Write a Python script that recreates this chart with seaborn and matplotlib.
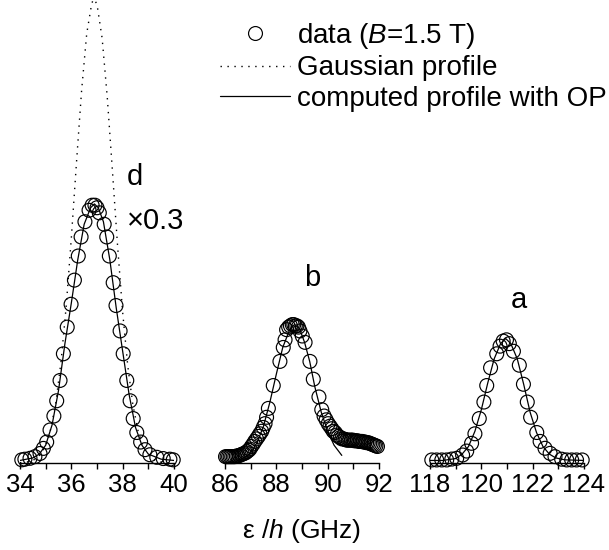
import matplotlib
matplotlib.use("Agg")
import matplotlib.pyplot as plt
from matplotlib.ticker import MultipleLocator
from matplotlib.lines import Line2D
import seaborn as sns

# ---------------- transition d (shown x0.3) ----------------
d_freq = [34.07, 34.19, 34.39, 34.58, 34.78, 34.91, 35.04, 35.17, 35.32, 35.43,
          35.56, 35.69, 35.84, 35.99, 36.12, 36.27, 36.38, 36.53, 36.69, 36.81,
          36.92, 37.00, 37.09, 37.28, 37.38, 37.48, 37.63, 37.74, 37.90, 38.02,
          38.16, 38.29, 38.41, 38.55, 38.70, 38.87, 39.06, 39.33, 39.58, 39.84, 39.97]
d_data = [0.025, 0.03, 0.037, 0.05, 0.075, 0.115, 0.165, 0.26, 0.37, 0.49,
          0.65, 0.86, 1.07, 1.25, 1.44, 1.63, 1.78, 1.90, 1.99, 2.03,
          2.03, 2.01, 1.97, 1.88, 1.78, 1.63, 1.42, 1.24, 1.04, 0.86,
          0.65, 0.49, 0.35, 0.24, 0.165, 0.105, 0.065, 0.045, 0.035, 0.03, 0.025]

d_fit_freq = [34.0, 34.5, 34.75, 35.0, 35.25, 35.5, 35.75, 36.0, 36.25, 36.5, 36.75,
              36.9, 37.05, 37.25, 37.5, 37.75, 38.0, 38.25, 38.5, 38.75, 39.0, 39.5, 40.0]
d_fit = [0.02, 0.04, 0.07, 0.14, 0.30, 0.57, 0.94, 1.26, 1.60, 1.88, 2.01,
         2.04, 2.01, 1.90, 1.60, 1.22, 0.88, 0.54, 0.28, 0.14, 0.07, 0.03, 0.02]

d_gauss_freq = [34.0, 34.2, 34.4, 34.6, 34.8, 35.0, 35.2, 35.4, 35.6, 35.8, 36.0,
                36.2, 36.4, 36.6, 36.8, 36.89, 37.0, 37.2, 37.4, 37.6, 37.8, 38.0,
                38.2, 38.4, 38.6, 38.8, 39.0, 39.2, 39.4, 39.6, 39.8, 40.0]
d_gauss = [0.002, 0.005, 0.013, 0.031, 0.068, 0.140, 0.269, 0.481, 0.800, 1.234, 1.772,
           2.364, 2.933, 3.382, 3.625, 3.652, 3.612, 3.345, 2.880, 2.304, 1.714, 1.186,
           0.762, 0.456, 0.253, 0.130, 0.063, 0.028, 0.012, 0.0045, 0.0016, 0.0006]

# ---------------- transition b ----------------
b_freq = [86.02, 86.08, 86.14, 86.20, 86.26, 86.32, 86.38, 86.44, 86.50, 86.56,
          86.62, 86.68, 86.74, 86.80, 86.86, 86.92, 86.97, 87.03, 87.10, 87.16,
          87.23, 87.30, 87.36, 87.43, 87.49, 87.56, 87.62, 87.69, 87.88, 88.14,
          88.27, 88.34, 88.40, 88.48, 88.55, 88.62, 88.68, 88.74, 88.80, 88.86,
          88.92, 89.01, 89.12, 89.31, 89.44, 89.66, 89.77, 89.86, 89.94, 90.02,
          90.09, 90.16, 90.22, 90.29, 90.36, 90.42, 90.49, 90.55, 90.62, 90.68,
          90.74, 90.80, 90.86, 90.92, 90.98, 91.04, 91.10, 91.16, 91.22, 91.28,
          91.34, 91.40, 91.46, 91.52, 91.58, 91.64, 91.70, 91.76, 91.82, 91.88, 91.94]
b_data = [0.05, 0.05, 0.05, 0.05, 0.05, 0.05, 0.05, 0.055, 0.055, 0.06,
          0.065, 0.07, 0.075, 0.08, 0.09, 0.10, 0.11, 0.13, 0.15, 0.17,
          0.19, 0.21, 0.23, 0.25, 0.28, 0.31, 0.36, 0.43, 0.61, 0.80,
          0.91, 0.97, 1.05, 1.07, 1.08, 1.09, 1.09, 1.08, 1.08, 1.07,
          1.04, 1.00, 0.95, 0.80, 0.66, 0.52, 0.42, 0.37, 0.34, 0.31,
          0.29, 0.27, 0.25, 0.24, 0.22, 0.21, 0.20, 0.19, 0.19, 0.185,
          0.18, 0.18, 0.18, 0.18, 0.18, 0.175, 0.175, 0.175, 0.17, 0.17,
          0.17, 0.165, 0.165, 0.16, 0.16, 0.155, 0.15, 0.145, 0.14, 0.135, 0.13]

b_fit_freq = [86.5, 86.75, 87.0, 87.25, 87.5, 87.75, 88.0, 88.25, 88.5, 88.7,
              88.9, 89.1, 89.3, 89.5, 89.75, 90.0, 90.25, 90.55]
b_fit = [0.02, 0.04, 0.08, 0.16, 0.29, 0.48, 0.70, 0.91, 1.04, 1.09,
         1.06, 0.95, 0.80, 0.60, 0.40, 0.25, 0.14, 0.06]

# ---------------- transition a ----------------
a_freq = [118.07, 118.26, 118.46, 118.65, 118.85, 119.04, 119.27, 119.43, 119.62, 119.75,
          119.92, 120.10, 120.21, 120.36, 120.60, 120.73, 120.85, 120.98, 121.09, 121.25,
          121.48, 121.64, 121.79, 121.92, 122.16, 122.29, 122.48, 122.68, 122.87, 123.13,
          123.33, 123.52, 123.71, 123.93]
a_data = [0.024, 0.024, 0.024, 0.024, 0.031, 0.037, 0.063, 0.094, 0.155, 0.23,
          0.35, 0.48, 0.61, 0.75, 0.86, 0.92, 0.96, 0.97, 0.94, 0.88,
          0.77, 0.62, 0.48, 0.36, 0.24, 0.17, 0.116, 0.076, 0.05, 0.03,
          0.024, 0.024, 0.024, 0.024]

a_fit_freq = [118.0, 118.5, 119.0, 119.25, 119.5, 119.75, 120.0, 120.25, 120.5, 120.75,
              120.95, 121.15, 121.4, 121.65, 121.9, 122.15, 122.4, 122.65, 122.9, 123.25, 124.0]
a_fit = [0.02, 0.02, 0.035, 0.07, 0.13, 0.25, 0.42, 0.63, 0.82, 0.94,
         0.98, 0.94, 0.82, 0.62, 0.40, 0.24, 0.13, 0.07, 0.04, 0.025, 0.02]

x_ranges = [(34, 40), (86, 92), (118, 124)]
y_top = 3.646

sns.set_style("ticks")
plt.rcParams["font.family"] = ["Liberation Sans", "DejaVu Sans"]
plt.rcParams["mathtext.fontset"] = "custom"
plt.rcParams["mathtext.it"] = "Liberation Sans:italic"
plt.rcParams["mathtext.rm"] = "Liberation Sans"
for key in ("text.color", "axes.labelcolor", "xtick.color", "xtick.labelcolor"):
    plt.rcParams[key] = "black"

W, H = 609, 550
fig = plt.figure(figsize=(W / 100, H / 100), dpi=100)

panel_left = [20, 225, 430]
panel_w = 154
base_px = 463
axes = [fig.add_axes([l / W, (H - base_px) / H, panel_w / W, base_px / H]) for l in panel_left]

dot_style = (0, (1, 4))
marker_kw = dict(marker="o", s=100, facecolors="none", edgecolor="black",
                 linewidth=0.85, clip_on=False, zorder=3, legend=False)

panels = [
    (d_freq, d_data, d_fit_freq, d_fit),
    (b_freq, b_data, b_fit_freq, b_fit),
    (a_freq, a_data, a_fit_freq, a_fit),
]

for ax, (lo, hi), (fx, fy, cx, cy) in zip(axes, x_ranges, panels):
    sns.lineplot(x=cx, y=cy, ax=ax, color="black", linewidth=0.9,
                 sort=False, estimator=None, zorder=2)
    sns.scatterplot(x=fx, y=fy, ax=ax, **marker_kw)
    ax.collections[-1].set_facecolor("none")
    ax.set_xlim(lo, hi)
    ax.set_ylim(0, y_top)
    ax.xaxis.set_major_locator(MultipleLocator(2))
    ax.xaxis.set_minor_locator(MultipleLocator(1))
    ax.tick_params(axis="x", which="both", direction="out", length=4.5,
                   width=1.0, labelsize=18.5, pad=3.0, color="black")
    ax.set_yticks([])
    ax.set_xlabel("")
    ax.set_ylabel("")
    for side in ("left", "right", "top"):
        ax.spines[side].set_visible(False)
    ax.spines["bottom"].set_linewidth(1.0)
    ax.spines["bottom"].set_color("black")
    ax.patch.set_alpha(0)

# Gaussian comparison for transition d
sns.lineplot(x=d_gauss_freq, y=d_gauss, ax=axes[0], color="black", linewidth=1.0,
             linestyle=dot_style, sort=False, estimator=None, zorder=2)
axes[0].lines[-1].set_linestyle(dot_style)

# panel annotations
axes[0].text(38.17, 2.19, "d", fontsize=21, ha="left", va="baseline")
axes[0].text(38.17, 1.84, "\u00d70.3", fontsize=21, ha="left", va="baseline")
axes[1].text(89.39, 1.39, "b", fontsize=21, ha="center", va="baseline")
axes[2].text(121.47, 1.22, "a", fontsize=21, ha="center", va="baseline")

axes[1].set_xlabel("\u03b5 /$h$ (GHz)", fontsize=19, labelpad=14)

handles = [
    Line2D([], [], marker="o", linestyle="none", markerfacecolor="none",
           markeredgecolor="black", markersize=10, markeredgewidth=0.85),
    Line2D([], [], color="black", linewidth=1.0, linestyle=dot_style),
    Line2D([], [], color="black", linewidth=0.9),
]
labels = ["data ($B$=1.5 T)", "Gaussian profile", "computed profile with OP"]
fig.legend(handles, labels, loc="upper left", bbox_to_anchor=(220 / W, 1 - 21 / H),
           frameon=False, fontsize=20, handlelength=2.52, handletextpad=0.25,
           labelspacing=0.16, borderpad=0, borderaxespad=0, numpoints=1)

fig.savefig("out.png", dpi=100)
